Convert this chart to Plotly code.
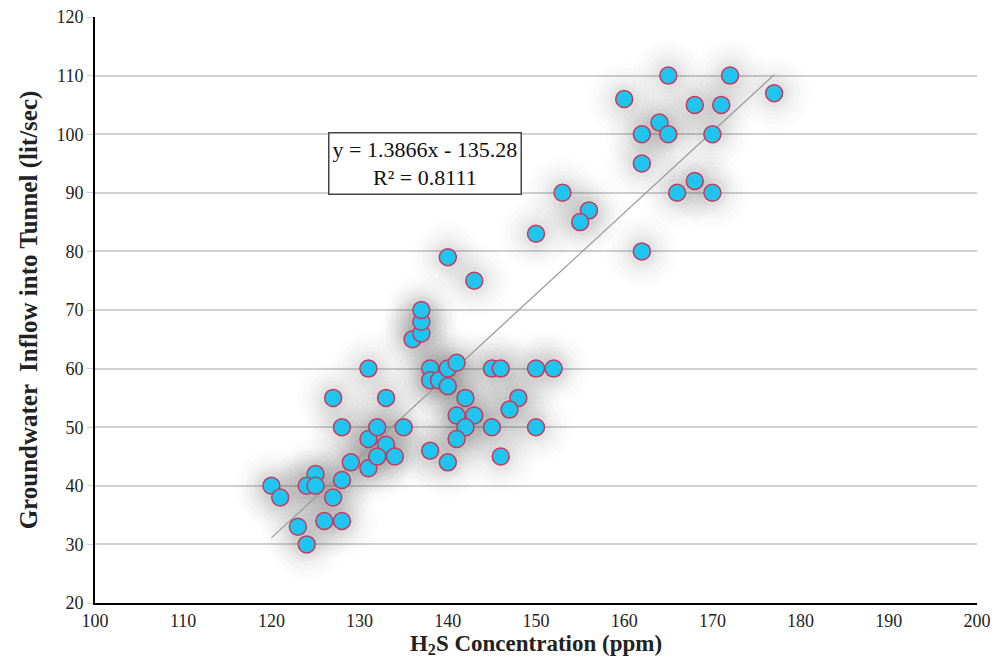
import plotly.graph_objects as go

h2s = [120, 121, 123, 124, 125, 124, 125, 126, 128, 127, 128, 129, 131, 131, 132, 133, 132, 134, 135,
       128, 127, 133, 131, 136, 137, 137, 137, 138, 138, 139, 140, 140, 141, 142, 141, 143, 142, 141,
       138, 140, 145, 146, 145, 146, 150, 152, 148, 147, 150, 143,
       165, 172, 177, 160, 168, 171, 164, 162, 165, 170, 162, 168, 166, 170, 162, 153, 156, 155, 150, 140]
inflow = [40, 38, 33, 30, 42, 40, 40, 34, 34, 38, 41, 44, 43, 48, 50, 47, 45, 45, 50,
          50, 55, 55, 60, 65, 66, 68, 70, 60, 58, 58, 60, 57, 61, 55, 52, 52, 50, 48,
          46, 44, 50, 45, 60, 60, 60, 60, 55, 53, 50, 75,
          110, 110, 107, 106, 105, 105, 102, 100, 100, 100, 95, 92, 90, 90, 80, 90, 87, 85, 83, 79]

slope = 1.3866
intercept = -135.28
trend_x = [min(h2s), max(h2s)]
trend_y = [slope * v + intercept for v in trend_x]

x_ticks = list(range(100, 201, 10))
y_ticks = list(range(20, 121, 10))

serif = "Liberation Serif, Times New Roman, serif"

fig = go.Figure()
# soft shadow halo (several faint layers for a smooth falloff)
for s, a in [(72, 0.016), (62, 0.02), (52, 0.024), (43, 0.028), (35, 0.032), (28, 0.036)]:
    fig.add_trace(go.Scatter(x=h2s, y=inflow, mode="markers", hoverinfo="skip",
                             marker=dict(size=s, color=f"rgba(95,95,95,{a})", line=dict(width=0))))
fig.add_trace(go.Scatter(x=trend_x, y=trend_y, mode="lines", hoverinfo="skip",
                         line=dict(color="#9a9a9a", width=1.2)))
fig.add_trace(go.Scatter(x=h2s, y=inflow, mode="markers",
                         marker=dict(size=17, color="#1fc4ef",
                                     line=dict(color="#c8385a", width=1.5))))

fig.add_annotation(
    x=(425 - 95) / (977 - 95), y=(603 - 163) / (603 - 17), xref="paper", yref="paper",
    xanchor="center", yanchor="middle",
    text="y = 1.3866x - 135.28<br>R² = 0.8111", showarrow=False,
    font=dict(family=serif, size=22, color="#111"),
    bgcolor="white", bordercolor="#444", borderwidth=1.5, borderpad=3, align="center")

fig.update_layout(
    width=1003, height=669,
    margin=dict(l=95, r=26, t=17, b=66, autoexpand=False),
    plot_bgcolor="white", paper_bgcolor="white",
    showlegend=False,
    xaxis=dict(range=[100, 200], tickvals=x_ticks, showgrid=False, zeroline=False,
               showline=True, linecolor="black", linewidth=2, automargin=False,
               ticks="", tickfont=dict(family=serif, size=18, color="#222"),
               title=dict(text="<b>H<sub>2</sub>S Concentration (ppm)</b>",
                          font=dict(family=serif, size=23, color="#222"), standoff=4)),
    yaxis=dict(range=[20, 120], tickvals=y_ticks, showgrid=True, gridcolor="#d0d0d0", gridwidth=1.5,
               zeroline=False, showline=True, linecolor="black", linewidth=2, automargin=False,
               ticks="outside", ticklen=6, tickcolor="#d0d0d0",
               tickfont=dict(family=serif, size=18, color="#222"),
               title=dict(text="<b>Groundwater  Inflow into Tunnel (lit/sec)</b>",
                          font=dict(family=serif, size=25, color="#222"), standoff=12)),
)

fig.write_html("out.html", config={"displayModeBar": False},
               post_script="document.body.style.margin='0';")
